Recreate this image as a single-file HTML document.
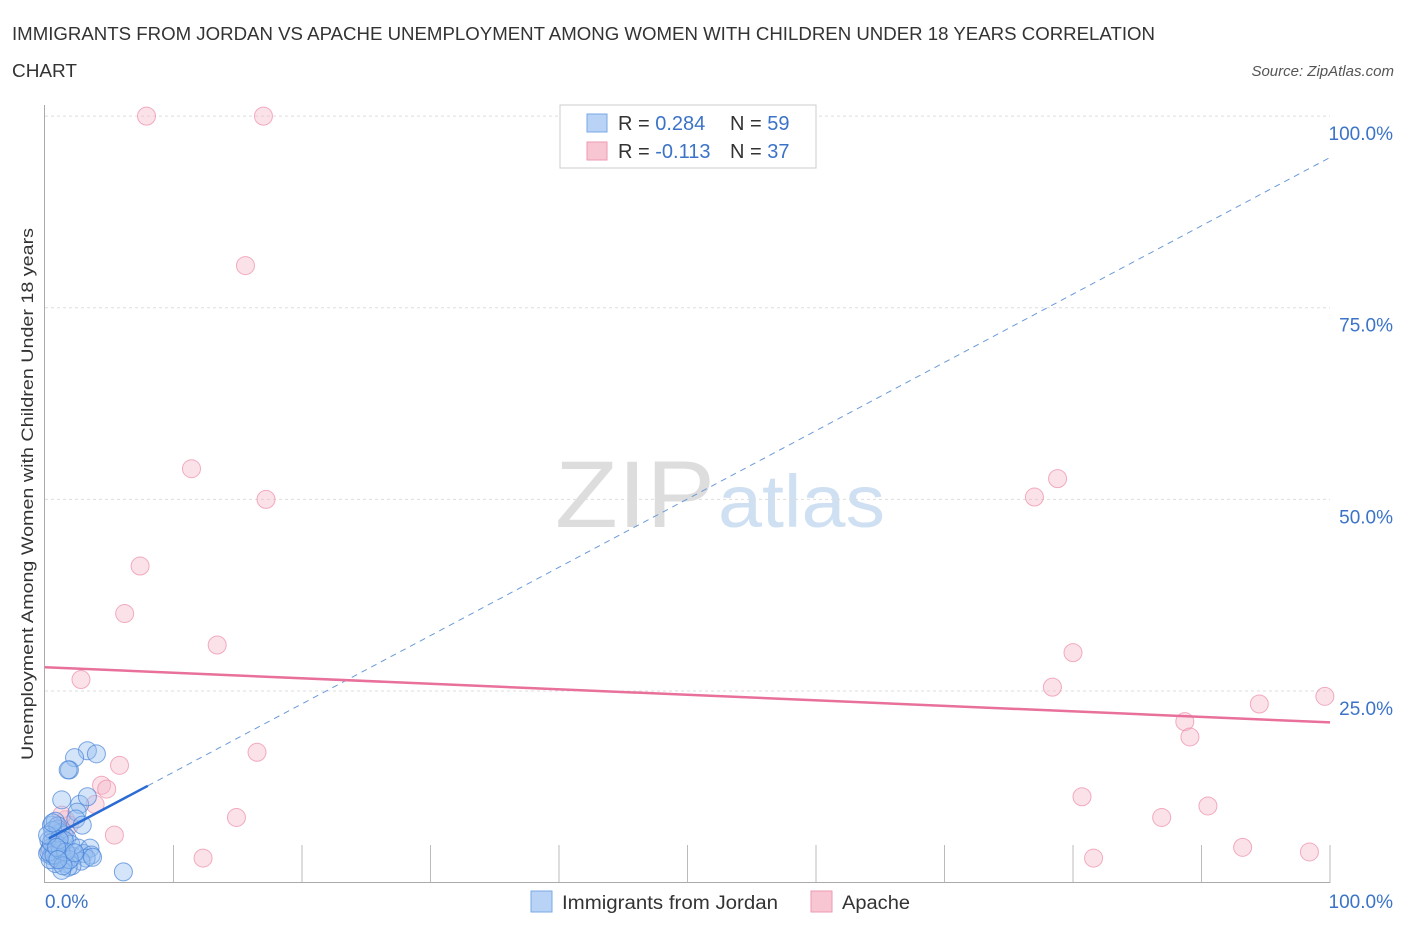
<!DOCTYPE html>
<html><head><meta charset="utf-8"><style>
body{margin:0;background:#fff;font-family:"Liberation Sans",sans-serif;}
svg text{font-family:"Liberation Sans",sans-serif;}
</style></head><body>
<svg id="chart" width="1406" height="930" xmlns="http://www.w3.org/2000/svg">
<text x="12" y="40" font-size="18" fill="#333" textLength="1143" lengthAdjust="spacingAndGlyphs">IMMIGRANTS FROM JORDAN VS APACHE UNEMPLOYMENT AMONG WOMEN WITH CHILDREN UNDER 18 YEARS CORRELATION</text>
<text x="12" y="77" font-size="18" fill="#333" textLength="65" lengthAdjust="spacingAndGlyphs">CHART</text>
<text x="1394" y="76" font-size="15" fill="#555" text-anchor="end" font-style="italic">Source: ZipAtlas.com</text>
<text x="555" y="527" font-size="95" fill="#ddd" font-family="Liberation Serif" textLength="160" lengthAdjust="spacingAndGlyphs">ZIP</text>
<text x="718" y="527" font-size="74" fill="#cfe0f2" textLength="167" lengthAdjust="spacingAndGlyphs">atlas</text>
<g id="grid"></g>
<line x1="45" y1="882.5" x2="1330" y2="882.5" stroke="#aaa"/>
<line x1="44.5" y1="105" x2="44.5" y2="883" stroke="#aaa"/>
<text transform="translate(33,494) rotate(-90)" font-size="17" fill="#333" text-anchor="middle" textLength="532" lengthAdjust="spacingAndGlyphs">Unemployment Among Women with Children Under 18 years</text>
<text x="45" y="908" font-size="19" fill="#3b73c8">0.0%</text>
<text x="1393" y="908" font-size="19" fill="#3b73c8" text-anchor="end">100.0%</text>
<g id="marks"></g>
<g>
<rect x="560" y="105" width="256" height="63" fill="#fff" stroke="#ccc"/>
<rect x="587" y="114" width="20" height="18" fill="#b8d3f5" stroke="#7aa8e6"/>
<rect x="587" y="142" width="20" height="18" fill="#f8c5d3" stroke="#ee9ab2"/>
<text x="618" y="130" font-size="20" fill="#333">R = <tspan fill="#3b73c8">0.284</tspan></text>
<text x="730" y="130" font-size="20" fill="#333">N = <tspan fill="#3b73c8">59</tspan></text>
<text x="618" y="158" font-size="20" fill="#333">R = <tspan fill="#3b73c8">-0.113</tspan></text>
<text x="730" y="158" font-size="20" fill="#333">N = <tspan fill="#3b73c8">37</tspan></text>
</g>
<g>
<rect x="531" y="891" width="21" height="21" fill="#b8d3f5" stroke="#7aa8e6"/>
<text x="562" y="909" font-size="19" fill="#333" textLength="216" lengthAdjust="spacingAndGlyphs">Immigrants from Jordan</text>
<rect x="811" y="891" width="21" height="21" fill="#f8c5d3" stroke="#ee9ab2"/>
<text x="842" y="909" font-size="19" fill="#333" textLength="68" lengthAdjust="spacingAndGlyphs">Apache</text>
</g>
</svg>
<script>
const yTicks=[25,50,75,100];
const yTickLabels=["25.0%","50.0%","75.0%","100.0%"];
const jordanX=[6.1,3.3,4.0,2.3,1.9,1.8,1.3,2.7,2.5,3.3,0.5,0.8,1.0,1.2,0.6,0.3,0.9,1.5,1.7,0.4,0.7,1.1,2.0,0.2,0.5,0.9,1.4,1.6,2.2,2.6,3.0,3.5,3.6,3.2,2.8,2.1,1.8,1.3,0.8,0.4,0.6,1.0,1.5,2.4,2.9,0.3,0.7,1.2,1.9,0.5,1.1,1.6,0.2,0.9,1.4,2.3,3.7,0.6,1.0];
const jordanY=[1.4,17.2,16.8,16.3,14.7,14.7,10.8,10.2,9.2,11.2,7.5,8.0,7.0,6.5,6.0,5.5,5.0,6.2,5.8,4.5,4.2,4.8,5.0,3.8,3.5,3.2,3.0,2.5,3.4,4.5,3.8,4.5,3.6,3.2,2.8,2.2,2.0,1.6,2.5,3.0,6.8,7.4,5.5,8.3,7.5,4.0,3.6,4.2,3.0,5.2,5.6,4.0,6.2,4.6,2.2,3.9,3.3,7.8,3.0];
const apacheX=[7.9,17.0,15.6,11.4,17.2,7.4,6.2,13.4,2.8,16.5,5.8,4.4,4.8,3.9,14.9,5.4,12.3,1.6,1.2,0.8,78.8,77.0,80.0,78.4,94.5,99.6,88.7,89.1,80.7,90.5,86.9,81.6,93.2,98.4,1.9,0.4,1.3];
const apacheY=[100,100,80.5,54,50,41.3,35.1,31,26.5,17,15.3,12.7,12.2,10.2,8.5,6.2,3.2,8.2,6.9,5.6,52.7,50.3,30,25.5,23.3,24.3,21,19,11.2,10,8.5,3.2,4.6,4.0,7.5,4.2,8.8];
const jordanTrend=[5.5,94.6];
const apacheTrend=[28.1,20.9];
const NS="http://www.w3.org/2000/svg";
const X=v=>45+v*12.85, Y=v=>882.6-v*7.665;
const grid=document.getElementById('grid'), marks=document.getElementById('marks');
function mk(tag,attrs,parent){const e=document.createElementNS(NS,tag);for(const k in attrs)e.setAttribute(k,attrs[k]);parent.appendChild(e);return e;}
yTicks.forEach((t,i)=>{
 const l=mk('line',{x1:45,x2:1330,y1:Y(t),y2:Y(t),stroke:'#ddd','stroke-dasharray':'3,3'},grid);
 
 
 const tx=mk('text',{x:1393,y:Y(t)+24,'font-size':19,fill:'#3b73c8','text-anchor':'end'},grid);
 tx.textContent=yTickLabels[i];
 
 
});
for(let i=1;i<=10;i++){const l=mk('line',{x1:45+i*128.5,x2:45+i*128.5,y1:845,y2:883,stroke:'#bbb'},grid);
 
 }
apacheX.forEach((x,i)=>{const c=mk('circle',{cx:X(x),cy:Y(apacheY[i]),r:9,fill:'rgba(246,182,200,0.4)',stroke:'rgba(236,140,168,0.7)','stroke-width':1},marks);
 
 });
jordanX.forEach((x,i)=>{const c=mk('circle',{cx:X(x),cy:Y(jordanY[i]),r:9,fill:'rgba(150,190,240,0.4)',stroke:'rgba(70,130,215,0.7)','stroke-width':1},marks);
 
 });
const jt=v=>jordanTrend[0]+(jordanTrend[1]-jordanTrend[0])*v/100;
let l1=mk('line',{x1:X(8),y1:Y(jt(8)),x2:X(100),y2:Y(jt(100)),stroke:'#6a9ad8','stroke-width':1,'stroke-dasharray':'6,5'},marks);


let l2=mk('line',{x1:X(0.3),y1:Y(jt(0.3)),x2:X(8),y2:Y(jt(8)),stroke:'#2a6bd4','stroke-width':2.5},marks);


let l3=mk('line',{x1:X(0),y1:Y(apacheTrend[0]),x2:X(100),y2:Y(apacheTrend[1]),stroke:'#e8709a','stroke-width':2.5},marks);


</script>
</body></html>
